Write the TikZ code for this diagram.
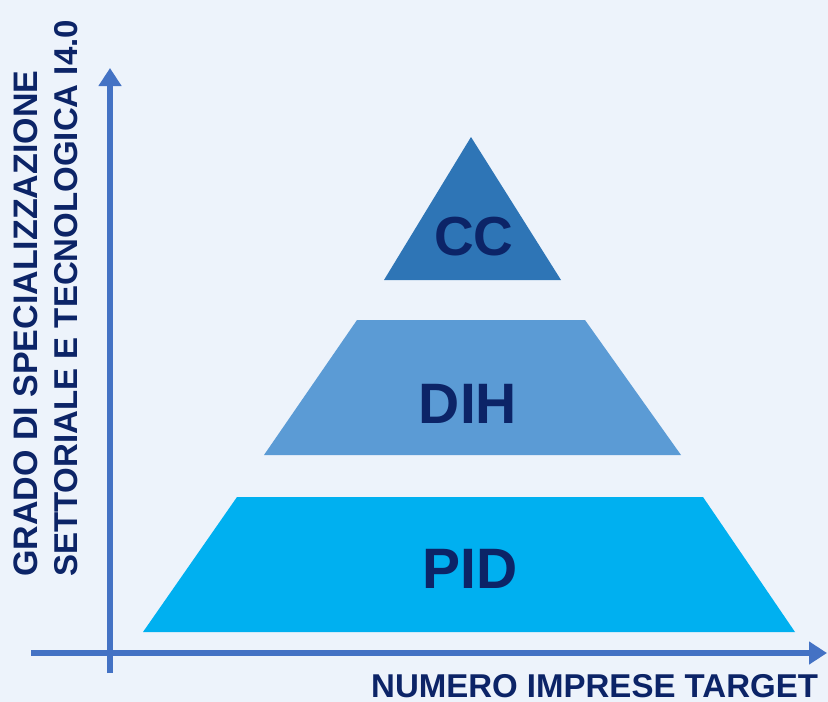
\documentclass[tikz,border=0pt]{standalone}
\usepackage{fontspec}
\setmainfont{Liberation Sans}
\usetikzlibrary{arrows.meta}
\definecolor{bg}{HTML}{EDF3FB}
\definecolor{axisblue}{HTML}{4472C4}
\definecolor{ccblue}{HTML}{2E75B6}
\definecolor{dihblue}{HTML}{5B9BD5}
\definecolor{pidblue}{HTML}{00B0F0}
\definecolor{navy}{HTML}{0C2467}
\begin{document}
\begin{tikzpicture}[x=1pt,y=-1pt,
  axis/.style={draw=axisblue,line width=6.5pt,-{Triangle[width=22pt,length=18pt]}},
  level/.style={text=navy,font=\bfseries\fontsize{57}{60}\selectfont,inner sep=0pt,anchor=base},
  axlabel/.style={text=navy,inner sep=0pt,anchor=base west}]
\fill[bg] (0,0) rectangle (828,702);
\useasboundingbox (0,0) rectangle (828,702);
% pyramid levels
\fill[ccblue] (471,137) -- (561,280) -- (384,280) -- cycle;
\fill[dihblue] (357,320) -- (585,320) -- (681,455) -- (264,455) -- cycle;
\fill[pidblue] (237,497) -- (703,497) -- (795,632) -- (143,632) -- cycle;
\node[level,font=\bfseries\fontsize{55}{60}\selectfont] (cc) at (474,255) {CC};
\node[level] (dih) at (468,423) {DIH};
\node[level] (pid) at (470,588) {PID};
% axes
\coordinate (ybot) at (110,673);
\coordinate (ytop) at (110,68);
\coordinate (xleft) at (31,653);
\coordinate (xright) at (827,653);
\draw[axis] (ybot) -- (ytop);
\draw[axis] (xleft) -- (xright);
% labels
\node[axlabel,font=\bfseries\fontsize{34}{36}\selectfont,rotate=90] (ylab1) at (37,577) {GRADO DI SPECIALIZZAZIONE};
\node[axlabel,font=\bfseries\fontsize{33}{36}\selectfont,rotate=90] (ylab2) at (77,577) {SETTORIALE E TECNOLOGICA I4.0};
\node[axlabel,font=\bfseries\fontsize{33}{36}\selectfont] (xlab) at (371,697) {NUMERO IMPRESE TARGET};
\end{tikzpicture}
\end{document}
